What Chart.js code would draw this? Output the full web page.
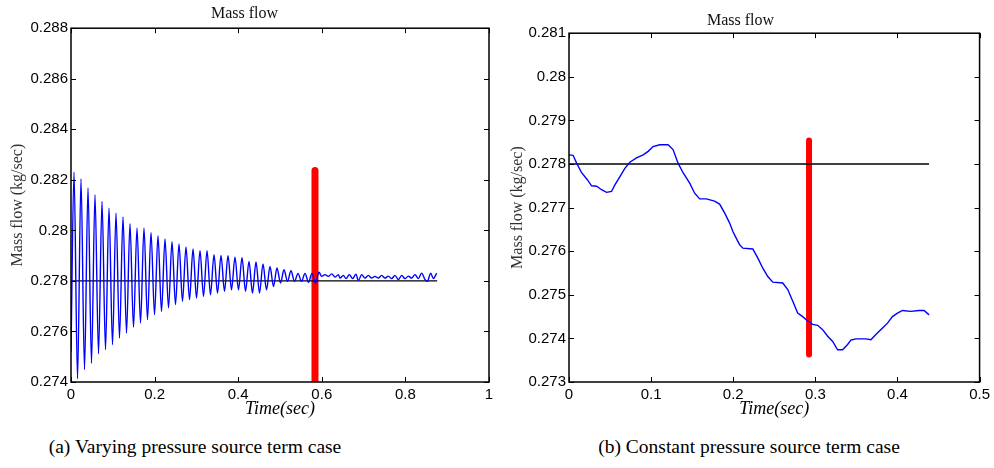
<!DOCTYPE html>
<html>
<head>
<meta charset="utf-8">
<script src="https://cdn.jsdelivr.net/npm/chart.js@4/dist/chart.umd.min.js"></script>
<style>
    body { margin: 0; background: #fff; width: 994px; height: 468px; position: relative; overflow: hidden; }
    .panel { position: absolute; top: 0; height: 425px; }
    .caption { position: absolute; top: 436px; font: 19.5px "Liberation Serif", serif; color: #000; white-space: nowrap; transform: translateX(-50%); }
</style>
</head>
<body>
<div class="panel" style="left:0; width:500px;"><canvas id="varyingChart"></canvas></div>
<div class="panel" style="left:500px; width:494px;"><canvas id="constantChart"></canvas></div>
<div class="caption" style="left:195px;">(a) Varying pressure source term case</div>
<div class="caption" style="left:749px;">(b) Constant pressure source term case</div>
<script>
// --- DATA ---
// (a) varying source term: peaks and troughs
const varyingTime = [
    0, 0.0072, 0.0156, 0.0239, 0.0323, 0.0407, 0.0490, 0.0574, 0.0658, 0.0742, 0.0825,
    0.0909, 0.0993, 0.1077, 0.1160, 0.1244, 0.1328, 0.1411, 0.1495, 0.1579, 0.1663,
    0.1746, 0.1830, 0.1914, 0.1998, 0.2081, 0.2165, 0.2249, 0.2333, 0.2416, 0.2500,
    0.2584, 0.2667, 0.2751, 0.2835, 0.2919, 0.3002, 0.3086, 0.3170, 0.3254, 0.3337,
    0.3421, 0.3505, 0.3589, 0.3672, 0.3756, 0.3840, 0.3923, 0.4007, 0.4091, 0.4175,
    0.4258, 0.4342, 0.4426, 0.4510, 0.4593, 0.4677, 0.4761, 0.4844, 0.4928, 0.5012,
    0.5096, 0.5179, 0.5263, 0.5347, 0.5431, 0.5514, 0.5598, 0.5682, 0.5766, 0.5849,
    0.5933, 0.5997, 0.6077, 0.6156, 0.6236, 0.6316, 0.6396, 0.6435, 0.6515, 0.6579,
    0.6659, 0.6738, 0.6818, 0.6874, 0.6954, 0.7033, 0.7113, 0.7193, 0.7273, 0.7352,
    0.7432, 0.7512, 0.7592, 0.7671, 0.7751, 0.7831, 0.7911, 0.7990, 0.8070, 0.8150,
    0.8230, 0.8310, 0.8389, 0.8469, 0.8525, 0.8605, 0.8668, 0.8748
];
const varyingFlow = [
    0.27520, 0.28230, 0.27413, 0.28203, 0.27449, 0.28168, 0.27474, 0.28140, 0.27512, 0.28114, 0.27528,
    0.28088, 0.27548, 0.28068, 0.27574, 0.28053, 0.27594, 0.28026, 0.27616, 0.28010, 0.27633,
    0.28010, 0.27647, 0.27992, 0.27666, 0.27979, 0.27679, 0.27966, 0.27693, 0.27955, 0.27706,
    0.27946, 0.27719, 0.27934, 0.27726, 0.27926, 0.27732, 0.27920, 0.27739, 0.27920, 0.27745,
    0.27904, 0.27752, 0.27901, 0.27759, 0.27900, 0.27765, 0.27894, 0.27765, 0.27892, 0.27759,
    0.27877, 0.27752, 0.27875, 0.27752, 0.27867, 0.27765, 0.27857, 0.27778, 0.27851, 0.27792,
    0.27844, 0.27798, 0.27840, 0.27798, 0.27830, 0.27798, 0.27830, 0.27795, 0.27830, 0.27792,
    0.27834, 0.27818, 0.27825, 0.27818, 0.27828, 0.27815, 0.27825, 0.27811, 0.27822, 0.27809,
    0.27825, 0.27809, 0.27827, 0.27801, 0.27825, 0.27811, 0.27822, 0.27811, 0.27818, 0.27811,
    0.27822, 0.27811, 0.27819, 0.27809, 0.27822, 0.27805, 0.27822, 0.27809, 0.27819, 0.27811,
    0.27825, 0.27809, 0.27831, 0.27805, 0.27798, 0.27831, 0.27809, 0.27831
];
const varyingRefTime = [0, 0.876];
const varyingRefFlow = [0.278, 0.278];
const varyingMarkTime = [0.5837, 0.5837];
const varyingMarkFlow = [0.27405, 0.28237];

// (b) constant source term
const constantTime = [
    0, 0.005, 0.0093, 0.0154, 0.0223, 0.0275, 0.0336, 0.0397, 0.0457, 0.0518, 0.0559,
    0.062, 0.068, 0.0741, 0.0822, 0.0903, 0.0964, 0.1024, 0.1105, 0.1206, 0.1267,
    0.1328, 0.1389, 0.147, 0.153, 0.1591, 0.1672, 0.1773, 0.1834, 0.1895, 0.1955,
    0.1996, 0.2036, 0.2077, 0.2117, 0.2239, 0.23, 0.236, 0.2421, 0.2482, 0.2603,
    0.2664, 0.2725, 0.2785, 0.2846, 0.2907, 0.2968, 0.3028, 0.3089, 0.315, 0.3211,
    0.3271, 0.3332, 0.3393, 0.3433, 0.3494, 0.3615, 0.3676, 0.3737, 0.3818, 0.3879,
    0.3939, 0.4, 0.4061, 0.4162, 0.4263, 0.4324, 0.4385
];
const constantFlow = [
    0.27821, 0.27820, 0.27802, 0.27780, 0.27764, 0.27750, 0.27749, 0.27741, 0.27735, 0.27737, 0.27752,
    0.27771, 0.27790, 0.27804, 0.27814, 0.27821, 0.27829, 0.27840, 0.27844, 0.27844, 0.27833,
    0.27802, 0.27780, 0.27756, 0.27733, 0.27720, 0.27720, 0.27715, 0.27708, 0.27688, 0.27665,
    0.27645, 0.27630, 0.27615, 0.27607, 0.27605, 0.27584, 0.27561, 0.27542, 0.27529, 0.27527,
    0.27512, 0.27485, 0.27458, 0.27450, 0.27440, 0.27432, 0.27430, 0.27420, 0.27405, 0.27393,
    0.27374, 0.27374, 0.27386, 0.27396, 0.27399, 0.27399, 0.27397, 0.27409, 0.27424, 0.27435,
    0.27450, 0.27458, 0.27464, 0.27462, 0.27464, 0.27464, 0.27454
];
const constantRefTime = [0, 0.4385];
const constantRefFlow = [0.278, 0.278];
const constantMarkTime = [0.2923, 0.2923];
const constantMarkFlow = [0.27363, 0.27854];

const toPoints = (xs, ys) => xs.map((x, i) => ({ x: x, y: ys[i] }));
const fmt = (v) => String(parseFloat(v.toFixed(4)));

// kotak sumbu + tick ke dalam, gaya MATLAB
const frameTicks = {
    id: 'frameTicks',
    afterDraw(chart) {
        const { ctx, chartArea: a, scales: { x, y } } = chart;
        ctx.save();
        ctx.strokeStyle = '#000';
        ctx.lineWidth = 1;
        ctx.beginPath();
        x.ticks.forEach(t => {
            const px = Math.round(x.getPixelForValue(t.value)) + 0.5;
            ctx.moveTo(px, a.bottom); ctx.lineTo(px, a.bottom - 5);
            ctx.moveTo(px, a.top); ctx.lineTo(px, a.top + 5);
        });
        y.ticks.forEach(t => {
            const py = Math.round(y.getPixelForValue(t.value)) + 0.5;
            ctx.moveTo(a.left, py); ctx.lineTo(a.left + 5, py);
            ctx.moveTo(a.right, py); ctx.lineTo(a.right - 5, py);
        });
        ctx.stroke();
        ctx.lineWidth = 1.5;
        ctx.strokeRect(a.left, a.top, a.right - a.left, a.bottom - a.top);
        ctx.restore();
    }
};

const makeChart = (id, opt) => {
    return new Chart(document.getElementById(id), {
        type: 'line',
        data: {
            datasets: [
                {
                    data: toPoints(opt.time, opt.flow),
                    borderColor: '#0000ff',
                    borderWidth: 1.4,
                    pointRadius: 0,
                    cubicInterpolationMode: opt.smooth ? 'monotone' : 'default',
                    tension: 0
                },
                {
                    data: toPoints(opt.refTime, opt.refFlow),
                    borderColor: '#000',
                    borderWidth: 1.3,
                    pointRadius: 0
                },
                {
                    data: toPoints(opt.markTime, opt.markFlow),
                    borderColor: '#ff0000',
                    borderWidth: opt.markWidth,
                    borderCapStyle: 'round',
                    pointRadius: 0
                }
            ]
        },
        options: {
            responsive: true,
            maintainAspectRatio: false,
            animation: false,
            layout: { padding: { right: opt.padRight, left: 0, top: 0, bottom: 0 } },
            plugins: {
                legend: { display: false },
                tooltip: { enabled: false },
                title: {
                    display: true,
                    text: 'Mass flow',
                    color: '#111',
                    font: { family: 'Liberation Serif', size: 16, weight: 'normal' },
                    padding: opt.titlePad
                }
            },
            scales: {
                x: {
                    type: 'linear',
                    min: 0,
                    max: opt.xMax,
                    grid: { display: false, drawTicks: false },
                    border: { display: false },
                    afterFit: (s) => { s.height = 43; },
                    ticks: {
                        stepSize: opt.xStep,
                        autoSkip: false,
                        maxRotation: 0,
                        padding: 4,
                        color: '#000',
                        font: { family: 'Liberation Sans', size: 15 },
                        callback: fmt
                    },
                    title: {
                        display: true,
                        text: 'Time(sec)',
                        color: '#000',
                        font: { family: 'Liberation Serif', size: 18, style: 'italic' },
                        padding: { top: 0, bottom: 5 }
                    }
                },
                y: {
                    min: opt.yMin,
                    max: opt.yMax,
                    grid: { display: false, drawTicks: false },
                    border: { display: false },
                    afterFit: (s) => { s.width = opt.yWidth; },
                    ticks: {
                        stepSize: opt.yStep,
                        autoSkip: false,
                        padding: 3,
                        color: '#000',
                        font: { family: 'Liberation Sans', size: 15 },
                        callback: fmt
                    },
                    title: {
                        display: true,
                        text: 'Mass flow (kg/sec)',
                        color: '#333',
                        font: { family: 'Liberation Serif', size: 16 },
                        padding: { top: 8, bottom: 0 }
                    }
                }
            }
        },
        plugins: [frameTicks]
    });
};

makeChart('varyingChart', {
    time: varyingTime, flow: varyingFlow,
    refTime: varyingRefTime, refFlow: varyingRefFlow,
    markTime: varyingMarkTime, markFlow: varyingMarkFlow,
    markWidth: 7, smooth: true,
    xMax: 1, xStep: 0.2, yMin: 0.274, yMax: 0.288, yStep: 0.002,
    yWidth: 71, padRight: 11, titlePad: { top: 4, bottom: 5 }
});

makeChart('constantChart', {
    time: constantTime, flow: constantFlow,
    refTime: constantRefTime, refFlow: constantRefFlow,
    markTime: constantMarkTime, markFlow: constantMarkFlow,
    markWidth: 6, smooth: false,
    xMax: 0.5, xStep: 0.1, yMin: 0.273, yMax: 0.281, yStep: 0.001,
    yWidth: 69, padRight: 13, titlePad: { top: 11, bottom: 3 }
});
</script>
</body>
</html>
